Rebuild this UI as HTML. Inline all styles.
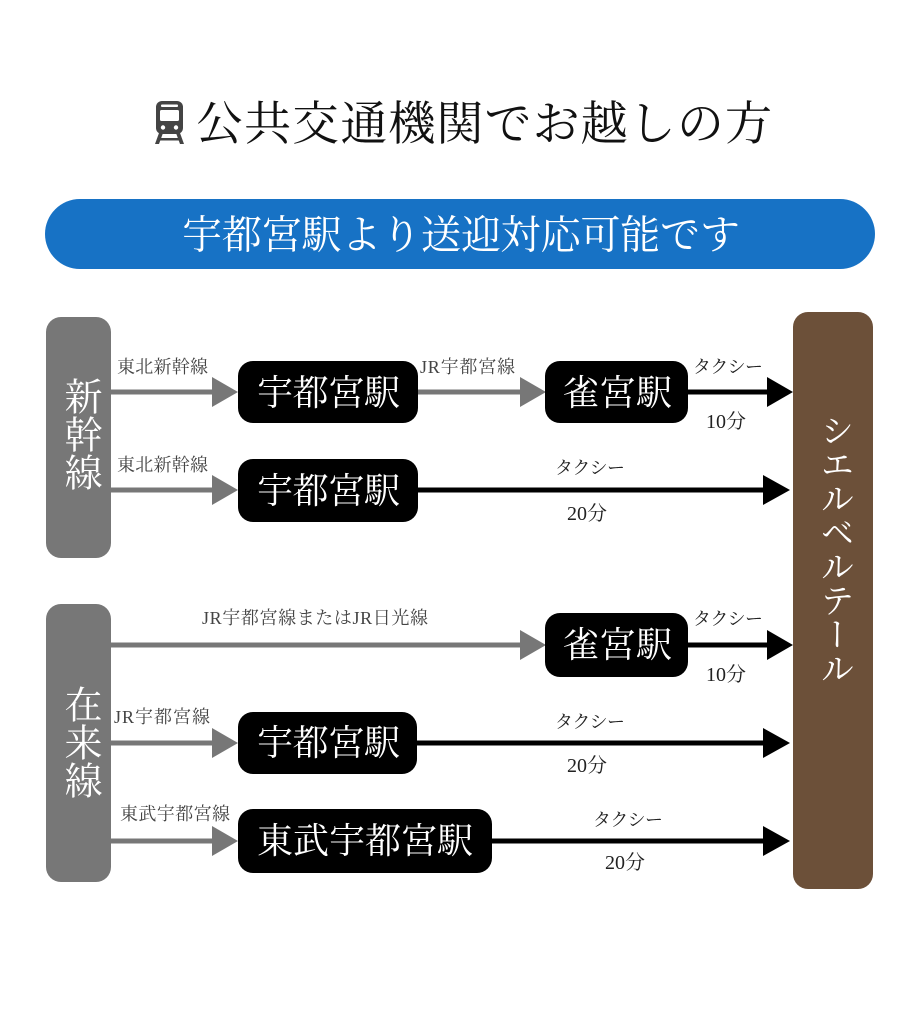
<!DOCTYPE html>
<html><head><meta charset="utf-8">
<style>
html,body{margin:0;padding:0;background:#fff;}
body{width:921px;height:1024px;position:relative;overflow:hidden;font-family:"Liberation Serif","Noto Serif CJK JP","Noto Serif CJK SC",serif;}
.v{position:absolute;writing-mode:vertical-rl;color:#fff;text-align:start;font-family:"Liberation Serif","Noto Serif CJK JP","Noto Serif CJK SC",serif;}
svg{position:absolute;left:0;top:0;}
</style></head><body>
<svg width="921" height="1024" viewBox="0 0 921 1024" xmlns="http://www.w3.org/2000/svg" font-family="'Liberation Serif','Noto Serif CJK JP','Noto Serif CJK SC',serif">
  <!-- train icon -->
  <g fill="#444">
    <rect x="156" y="101" width="27" height="33" rx="6"/>
    <rect x="161" y="104.5" width="17" height="2.5" fill="#fff" rx="1"/>
    <rect x="160" y="110" width="19" height="11" fill="#fff" rx="1.5"/>
    <circle cx="163" cy="127.5" r="2.2" fill="#fff"/>
    <circle cx="176" cy="127.5" r="2.2" fill="#fff"/>
    <polygon points="159,133 163,133 159,144 155,144"/>
    <polygon points="176,133 180,133 184,144 180,144"/>
    <rect x="159" y="138" width="21" height="2.5"/>
  </g>
  <text x="196" y="125" font-size="47" fill="#111" dominant-baseline="central" textLength="576">公共交通機関でお越しの方</text>

  <!-- banner -->
  <rect x="45" y="199" width="830" height="70" rx="35" fill="#1772c5"/>
  <text x="182" y="235" font-size="40" fill="#fff" dominant-baseline="central" textLength="558">宇都宮駅より送迎対応可能です</text>

  <!-- left boxes -->
  <rect x="46" y="317" width="65" height="241" rx="15" fill="#777"/>
  <rect x="46" y="604" width="65" height="278" rx="15" fill="#777"/>
  <!-- right box -->
  <rect x="793" y="312" width="80" height="577" rx="15" fill="#6c5039"/>

  <!-- gray arrows -->
  <g fill="#777">
    <rect x="111" y="389.5" width="103" height="5"/><polygon points="212,377 238,392 212,407"/>
    <rect x="418" y="389.5" width="104" height="5"/><polygon points="520,377 546,392 520,407"/>
    <rect x="111" y="487.5" width="103" height="5"/><polygon points="212,475 238,490 212,505"/>
    <rect x="111" y="642.5" width="411" height="5"/><polygon points="520,630 546,645 520,660"/>
    <rect x="111" y="740.5" width="103" height="5"/><polygon points="212,728 238,743 212,758"/>
    <rect x="111" y="838.5" width="103" height="5"/><polygon points="212,826 238,841 212,856"/>
  </g>
  <!-- black arrows -->
  <g fill="#000">
    <rect x="688" y="389.5" width="81" height="5"/><polygon points="767,377 793,392 767,407"/>
    <rect x="418" y="487.5" width="347" height="5"/><polygon points="763,475 790,490 763,505"/>
    <rect x="688" y="642.5" width="81" height="5"/><polygon points="767,630 793,645 767,660"/>
    <rect x="417" y="740.5" width="348" height="5"/><polygon points="763,728 790,743 763,758"/>
    <rect x="492" y="838.5" width="273" height="5"/><polygon points="763,826 790,841 763,856"/>
  </g>

  <!-- station boxes -->
  <g fill="#000">
    <rect x="238" y="361" width="180" height="62" rx="15"/>
    <rect x="545" y="361" width="143" height="62" rx="15"/>
    <rect x="238" y="459" width="180" height="63" rx="15"/>
    <rect x="545" y="613" width="143" height="64" rx="15"/>
    <rect x="238" y="712" width="179" height="62" rx="15"/>
    <rect x="238" y="809" width="254" height="64" rx="15"/>
  </g>
  <g fill="#fff" font-size="36" dominant-baseline="central">
    <text x="257" y="393" textLength="143">宇都宮駅</text>
    <text x="563" y="393" textLength="109">雀宮駅</text>
    <text x="257" y="491" textLength="143">宇都宮駅</text>
    <text x="563" y="645" textLength="109">雀宮駅</text>
    <text x="257" y="743" textLength="143">宇都宮駅</text>
    <text x="257" y="841" textLength="216">東武宇都宮駅</text>
  </g>

  <!-- line labels -->
  <g fill="#444" font-size="18" dominant-baseline="central">
    <text x="117" y="367" textLength="91">東北新幹線</text>
    <text x="420" y="367" textLength="95">JR宇都宮線</text>
    <text x="117" y="465" textLength="91">東北新幹線</text>
    <text x="202" y="618" textLength="226">JR宇都宮線またはJR日光線</text>
    <text x="114" y="717" textLength="96">JR宇都宮線</text>
    <text x="120" y="814" textLength="110">東武宇都宮線</text>
  </g>
  <g fill="#222" font-size="18" dominant-baseline="central">
    <text x="693" y="367" textLength="70">タクシー</text>
    <text x="555" y="468" textLength="70">タクシー</text>
    <text x="693" y="619" textLength="70">タクシー</text>
    <text x="555" y="722" textLength="70">タクシー</text>
    <text x="593" y="820" textLength="70">タクシー</text>
  </g>
  <g fill="#222" font-size="20" dominant-baseline="central">
    <text x="706" y="422">10分</text>
    <text x="567" y="514">20分</text>
    <text x="706" y="675">10分</text>
    <text x="567" y="766">20分</text>
    <text x="605" y="863">20分</text>
  </g>
</svg>
<div class="v" style="left:46px;top:377px;width:65px;height:120px;font-size:38px;line-height:65px;">新幹線</div>
<div class="v" style="left:46px;top:685px;width:65px;height:120px;font-size:38px;line-height:65px;">在来線</div>
<div class="v" style="left:793px;top:413px;width:80px;height:280px;font-size:34px;line-height:80px;">シエルベルテール</div>
</body></html>
